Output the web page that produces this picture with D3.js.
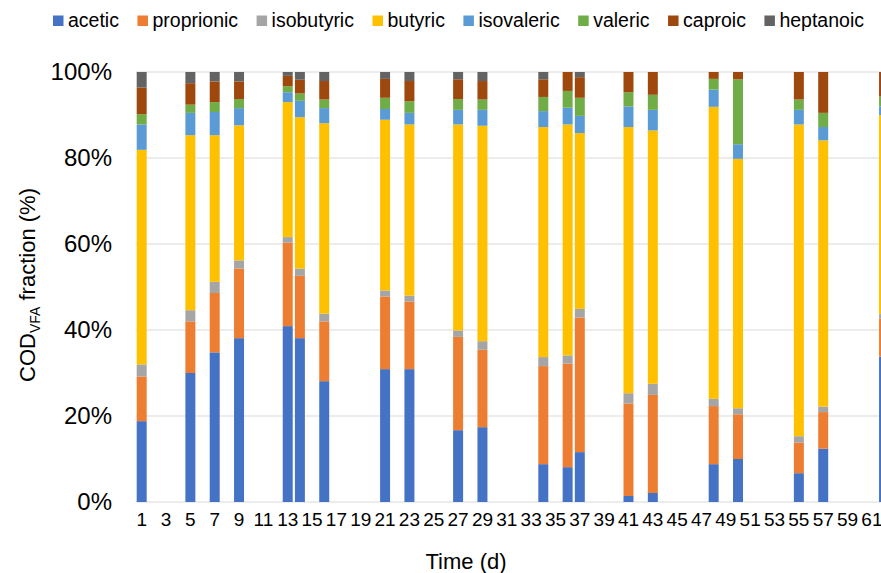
<!DOCTYPE html>
<html>
<head>
<meta charset="utf-8">
<script src="https://cdn.jsdelivr.net/npm/d3@7"></script>
<style>
  html, body { margin: 0; padding: 0; background: #fff; overflow: hidden; }
  svg { display: block; font-family: "Liberation Sans", Arial, sans-serif; }
</style>
</head>
<body>
<svg id="chart" width="881" height="573"></svg>
<script>
// ---- data ----
const categories = [1,2,3,4,5,6,7,8,9,10,11,12,13,14,15,16,17,18,19,20,21,22,23,24,25,26,27,28,29,30,31,32,33,34,35,36,37,38,39,40,41,42,43,44,45,46,47,48,49,50,51,52,53,54,55,56,57,58,59,60,61,62];
const tickLabels = [1,3,5,7,9,11,13,15,17,19,21,23,25,27,29,31,33,35,37,39,41,43,45,47,49,51,53,55,57,59,61];
const yTicks = [0,20,40,60,80,100];
const seriesNames = ["acetic","proprionic","isobutyric","butyric","isovaleric","valeric","caproic","heptanoic"];
const seriesColors = ["#4472C4","#ED7D31","#A5A5A5","#FFC000","#5B9BD5","#70AD47","#9E480E","#636363"];

const sampleDays = [1,5,7,9,13,14,16,21,23,27,29,34,36,37,41,43,48,50,55,57,62];
const acetic     = [18.8,30.0,34.8,38.1,40.9,38.1,28.1,30.9,30.9,16.7,17.4,8.8,8.1,11.6,1.4,2.1,8.8,10.0,6.7,12.4,33.8];
const proprionic = [10.4,12.0,13.8,16.2,19.4,14.5,13.9,16.9,15.7,21.7,18.0,22.8,24.1,31.3,21.5,22.8,13.5,10.4,7.1,8.5,8.9];
const isobutyric = [2.8,2.6,2.6,1.9,1.3,1.7,1.8,1.4,1.4,1.5,2.0,2.1,1.9,2.0,2.4,2.6,1.7,1.4,1.5,1.3,1.0];
const butyric    = [49.9,40.7,34.1,31.4,31.4,35.2,44.3,39.7,39.8,47.9,50.1,53.5,53.7,40.9,61.9,58.9,67.9,58.0,72.5,61.9,46.3];
const isovaleric = [5.9,5.2,5.4,4.0,2.3,3.8,3.5,2.5,2.7,3.4,3.7,3.7,3.9,4.0,4.8,4.8,4.0,3.4,3.4,3.1,2.0];
const valeric    = [2.4,1.9,2.3,2.1,1.4,1.7,2.0,2.6,2.7,2.5,2.4,3.3,3.9,4.2,3.3,3.5,2.5,15.1,2.4,3.3,2.3];
const caproic    = [6.2,5.0,4.8,4.1,2.4,3.2,4.3,4.4,4.7,4.6,4.3,4.1,4.4,4.8,4.7,5.3,1.6,1.7,6.4,9.5,5.7];
const heptanoic  = [3.6,2.6,2.2,2.2,0.9,1.8,2.1,1.6,2.1,1.7,2.1,1.7,0,1.2,0,0,0,0,0,0,0];

// ---- build table ----
const seriesArrays = [acetic, proprionic, isobutyric, butyric, isovaleric, valeric, caproic, heptanoic];
const rows = sampleDays.map((d, i) => {
  const r = { day: d };
  seriesNames.forEach((n, k) => r[n] = seriesArrays[k][i]);
  return r;
});

const svg = d3.select("#chart");
const plotLeft = 135.6, step = 12.17;
const x = d3.scaleBand()
  .domain(categories)
  .range([plotLeft, plotLeft + categories.length * step])
  .paddingInner(0.18).paddingOuter(0.09);
const y = d3.scaleLinear().domain([0, 100]).range([502, 72]);
const color = d3.scaleOrdinal().domain(seriesNames).range(seriesColors);

// gridlines
svg.append("g").selectAll("line").data(yTicks).join("line")
  .attr("x1", plotLeft).attr("x2", plotLeft + categories.length * step)
  .attr("y1", d => y(d)).attr("y2", d => y(d))
  .attr("stroke", "#d9d9d9").attr("stroke-width", 1);

// bars
const stacked = d3.stack().keys(seriesNames)(rows);
svg.append("g").selectAll("g").data(stacked).join("g")
  .attr("fill", d => color(d.key))
  .selectAll("rect").data(d => d).join("rect")
  .attr("x", d => x(d.data.day))
  .attr("width", x.bandwidth())
  .attr("y", d => y(d[1]))
  .attr("height", d => Math.max(0, y(d[0]) - y(d[1])));

// y axis
const yAxis = d3.axisLeft(y).tickValues(yTicks).tickFormat(d => d + "%").tickSize(0).tickPadding(0);
const gy = svg.append("g").attr("transform", "translate(112,0)").call(yAxis);
gy.select(".domain").remove();
gy.selectAll("text").attr("font-size", 24).attr("fill", "#000")
  .attr("font-family", "'Liberation Sans', Arial, sans-serif");

// x axis
const xAxis = d3.axisBottom(x).tickValues(tickLabels).tickSize(0).tickPadding(0);
const gx = svg.append("g").attr("transform", "translate(0,512)").call(xAxis);
gx.select(".domain").remove();
gx.selectAll("text").attr("font-size", 19).attr("fill", "#000").attr("dy", "0.71em")
  .attr("font-family", "'Liberation Sans', Arial, sans-serif");

// axis titles
svg.append("text").attr("x", 466).attr("y", 569).attr("text-anchor", "middle")
  .attr("font-size", 22).attr("fill", "#000").text("Time (d)");

const yt = svg.append("text")
  .attr("transform", "translate(35,285) rotate(-90)")
  .attr("text-anchor", "middle").attr("font-size", 22).attr("fill", "#000");
yt.append("tspan").text("COD");
yt.append("tspan").attr("font-size", 14).attr("dy", 5).text("VFA");
yt.append("tspan").attr("dy", -5).text(" fraction (%)");

// legend
const legend = svg.append("g");
let lx = 53;
seriesNames.forEach((n, i) => {
  legend.append("rect").attr("x", lx).attr("y", 15.5).attr("width", 10.5).attr("height", 10.5)
    .attr("fill", seriesColors[i]);
  const t = legend.append("text").attr("x", lx + 15).attr("y", 26.5)
    .attr("font-size", 19.5).attr("fill", "#000").text(n);
  lx += 15 + t.node().getComputedTextLength() + 18.5;
});
</script>
</body>
</html>
